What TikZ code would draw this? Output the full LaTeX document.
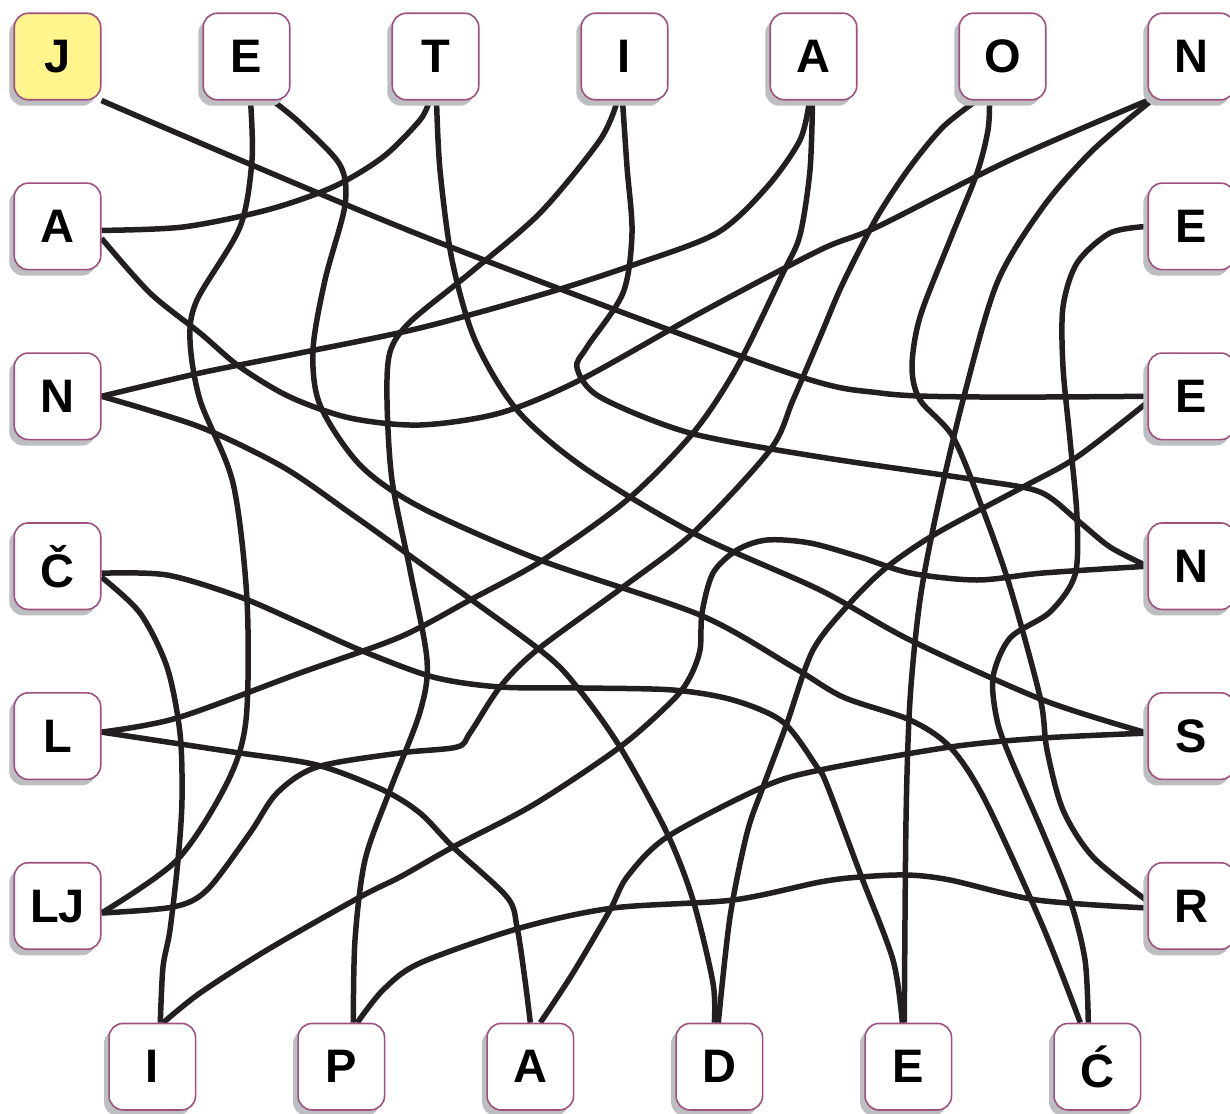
\documentclass[tikz,border=0pt]{standalone}
\usepackage{fontspec}
\setmainfont{Liberation Sans}
\usetikzlibrary{positioning,shadows,backgrounds}
\definecolor{tileline}{RGB}{158,80,126}
\definecolor{tileshade}{RGB}{189,190,194}
\definecolor{tilefirst}{RGB}{255,245,140}
\definecolor{ink}{RGB}{35,31,32}

\begin{document}
\begin{tikzpicture}[
  x=1pt, y=-1pt, on grid,
  tile/.style={draw=tileline, line width=1.6pt, fill=white, rounded corners=14pt,
               minimum size=86.5pt, inner sep=0pt, text depth=-5pt,
               font=\fontsize{47}{50}\selectfont\bfseries,
               drop shadow={shadow xshift=-5pt, shadow yshift=-6pt,
                            fill=tileshade, opacity=1}},
  link/.style={draw=ink, line width=5.5pt}
]
  \useasboundingbox (0,0) rectangle (1230,1113);
  % top row
  \node[tile, fill=tilefirst] (t1) at (57.5,56.5) {J};
  \node[tile, right=189pt of t1] (t2) {E};
  \node[tile, right=189pt of t2] (t3) {T};
  \node[tile, right=189pt of t3] (t4) {I};
  \node[tile, right=189pt of t4] (t5) {A};
  \node[tile, right=189pt of t5] (t6) {O};
  \node[tile, right=189pt of t6] (t7) {N};
  % left column
  \node[tile, below=169.9pt of t1] (l1) {A};
  \node[tile, below=169.9pt of l1] (l2) {N};
  \node[tile, below=169.9pt of l2] (l3) {Č};
  \node[tile, below=169.9pt of l3] (l4) {L};
  \node[tile, below=169.9pt of l4] (l5) {LJ};
  % right column
  \node[tile, below=169.9pt of t7] (r1) {E};
  \node[tile, below=169.9pt of r1] (r2) {E};
  \node[tile, below=169.9pt of r2] (r3) {N};
  \node[tile, below=169.9pt of r3] (r4) {S};
  \node[tile, below=169.9pt of r4] (r5) {R};
  % bottom row
  \node[tile, below right=160.7pt and 94.8pt of l5] (b1) {I};
  \node[tile, right=189pt of b1] (b2) {P};
  \node[tile, right=189pt of b2] (b3) {A};
  \node[tile, right=189pt of b3] (b4) {D};
  \node[tile, right=189pt of b4] (b5) {E};
  \node[tile, right=189pt of b5] (b6) {Ć};

  % the tangle, kept under the tiles
  \begin{scope}[on background layer]
    \draw[link] plot[smooth] coordinates {(t1.south east) (420,235) (780,370) (880,393) (980,397) (r2.west)};
    \draw[link] plot[smooth] coordinates {([xshift=4pt]t2.south) (252,160) (240,227) (197,300) (190,340)
      (200,400) (233,483) (247,600) (246,720) (227,783) (177,860) ([yshift=-7pt]l5.east)};
    \draw[link] plot[smooth] coordinates {([xshift=26pt]t2.south) (300,123) (340,165) (345,205) (325,280)
      (313,350) (320,405) (360,465) (420,507) (540,560) (700,615) (793,667) (843,697) (910,720)
      (950,747) (985,800) (1043,927) ([xshift=-17pt]b6.north)};
    \draw[link] plot[smooth] coordinates {([xshift=-6pt]t3.south) (420,120) (383,157) (333,187) (267,210)
      (183,227) ([yshift=-4pt]l1.east)};
    \draw[link] plot[smooth] coordinates {([xshift=1pt]t3.south) (440,170) (452,260) (475,340) (517,410)
      (583,467) (693,533) (820,590) (910,640) (1043,700) ([yshift=3pt]r4.west)};
    \draw[link] plot[smooth] coordinates {([xshift=-7pt]t4.south) (600,140) (540,213) (470,273) (410,322)
      (390,352) (387,400) (392,480) (410,570) (427,660) (420,712) (390,790) (365,860) (355,940)
      ([xshift=12pt]b2.north)};
    \draw[link] plot[smooth] coordinates {([xshift=-2pt]t4.south) (627,167) (632,233) (623,293) (587,347)
      (577,368) (600,397) (690,433) (820,457) (977,480) (1040,492) (1077,520) (1110,547) (r3.west)};
    \draw[link] plot[smooth] coordinates {([xshift=-4pt]t5.south) (800,140) (767,187) (717,233) (633,265)
      (547,293) (420,328) (300,353) (200,373) (l2.east)};
    \draw[link] plot[smooth] coordinates {([xshift=-1pt]t5.south) (810,170) (800,235) (783,273) (737,367)
      (693,433) (627,500) (543,560) (470,600) (400,637) (300,673) (177,718) ([yshift=4pt]l4.east)};
    \draw[link] plot[smooth] coordinates {([xshift=-26pt]t6.south) (943,127) (910,167) (877,217) (843,283)
      (820,337) (793,400) (770,450) (693,533) (623,587) (537,650) (500,687) (470,733) (457,747)
      (400,753) (317,767) (277,793) (250,833) (207,890) (173,907) ([yshift=-7pt]l5.east)};
    \draw[link] plot[smooth] coordinates {([xshift=-13pt]t6.south) (988,130) (977,173) (950,240) (920,317)
      (912,367) (920,400) (953,437) (983,510) (1010,587) (1040,697) (1047,750) (1063,810) (1093,857)
      ([yshift=5pt]r5.west)};
    \draw[link] plot[smooth] coordinates {(t7.south west) (1010,160) (877,227) (820,250) (700,313)
      (580,380) (500,413) (420,425) (350,418) (290,397) (240,367) (200,333) (150,293)
      ([yshift=-12pt]l1.east)};
    \draw[link] plot[smooth] coordinates {([xshift=4pt]t7.south west) (1093,150) (1043,207) (997,283)
      (963,400) (937,510) (920,600) (910,700) (906,820) ([xshift=-4pt]b5.north)};
    \draw[link] plot[smooth] coordinates {(r1.west) (1110,233) (1077,263) (1063,307) (1063,367) (1070,440)
      (1077,517) (1075,575) (1050,612) (1010,638) (993,677) (997,720) (1010,757) (1043,833)
      (1070,900) (1085,960) ([xshift=-9pt]b6.north)};
    \draw[link] plot[smooth] coordinates {(r3.west) (1043,573) (977,580) (910,573) (860,557) (810,543)
      (767,540) (737,550) (713,573) (702,613) (700,650) (690,677) (673,700) (620,747) (533,805)
      (453,847) (400,877) (360,897) (267,950) (200,993) ([xshift=11pt]b1.north)};
    \draw[link] plot[smooth] coordinates {([yshift=3pt]r4.west) (1043,738) (950,747) (820,770) (763,787)
      (667,837) (627,877) (610,910) (573,973) ([xshift=10pt]b3.north)};
    \draw[link] plot[smooth] coordinates {([yshift=-2pt]r5.west) (1037,900) (950,880) (907,875) (860,877)
      (820,882) (733,900) (613,908) (520,928) (420,963) (383,990) ([xshift=16pt]b2.north)};
    \draw[link] plot[smooth] coordinates {([yshift=-6pt]r2.west) (1077,457) (1023,487) (937,533) (887,567)
      (850,603) (813,650) (787,723) (763,787) (747,833) (730,917) ([xshift=-1pt]b4.north)};
    \draw[link] plot[smooth] coordinates {([yshift=-7pt]l3.east) (167,575) (240,597) (300,623) (360,650)
      (433,677) (500,687) (583,688) (673,690) (733,700) (783,722) (817,767) (827,785) (860,873)
      (893,960) ([xshift=-6pt]b5.north)};
    \draw[link] plot[smooth] coordinates {([yshift=-11pt]l3.east) (140,613) (167,667) (180,733) (182,800)
      (178,860) (170,930) (163,967) ([xshift=8pt]b1.north)};
    \draw[link] plot[smooth] coordinates {([yshift=4pt]l4.east) (233,752) (317,765) (383,790) (420,813)
      (453,847) (507,897) (517,927) (525,980) (b3.north)};
    \draw[link] plot[smooth] coordinates {(l2.east) (200,427) (283,467) (350,513) (420,563) (540,650)
      (577,687) (620,747) (667,833) (693,900) (713,983) ([xshift=-5pt]b4.north)};
  \end{scope}
\end{tikzpicture}
\end{document}
